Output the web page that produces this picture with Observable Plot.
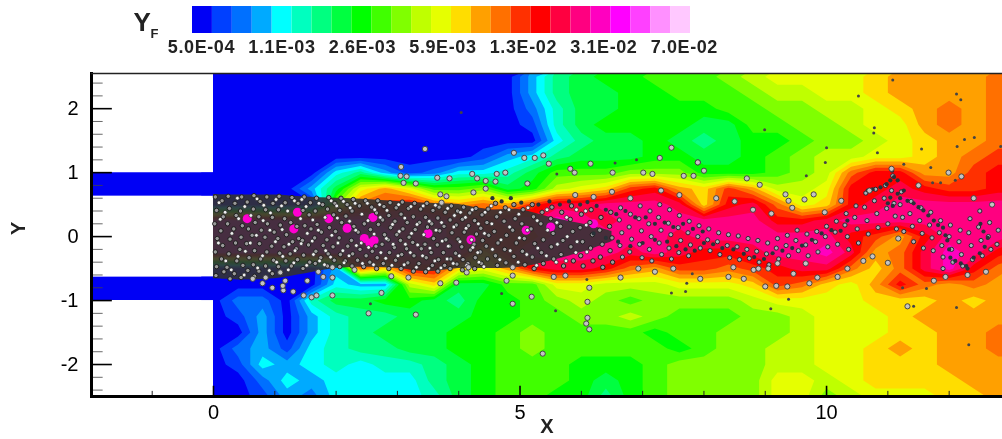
<!DOCTYPE html>
<html><head><meta charset="utf-8">
<script src="https://cdn.jsdelivr.net/npm/d3@7"></script>
<script src="https://cdn.jsdelivr.net/npm/@observablehq/plot@0.6"></script>
<style>html,body{margin:0;padding:0;background:#fff;overflow:hidden}svg{display:block;filter:blur(.5px)}.barlabel text{letter-spacing:.6px}</style>
</head><body>
<script>
// Colour bar: 25 bands, labelled every fourth level
const bandColors=["#0000f5","#0040ff","#0070ff","#00aaff","#00ffff","#00ffbf","#00ff80","#00ff40","#00ff00","#40ff00","#80ff00","#bfff00","#e6ff00","#ffdd00","#ffa000","#ff7000","#ff3000","#ff0000","#ff0040","#ff0080","#ff00c0","#ff00ff","#ff40ff","#ff90ff","#ffc8ff"];
const barLabels=["5.0E-04","1.1E-03","2.6E-03","5.9E-03","1.3E-02","3.1E-02","7.0E-02"];
const xMajor=[0,5,10], xMinor=[-1,1,2,3,4,6,7,8,9,11,12];
const yMajor=[-2,-1,0,1,2];
const yMinor=[-2.4,-2.2,-1.8,-1.6,-1.4,-1.2,-.8,-.6,-.4,-.2,.2,.4,.6,.8,1.2,1.4,1.6,1.8,2.2,2.4];
// Y_F level read at each grid node; columns x = 0, 0.4 ... 13.2, rows y = 2.5 ... -2.5
const r250=[0,0,0,0,0,0,0,0,0,0,0,0,0,3,6,7,8,8,9,9,9,10,11,12,12,12,12,13,14,14,14,14,15,15];
const r225=[0,0,0,0,0,0,0,0,0,0,0,0,0,3,6,7,7,8,8,9,9,9,10,11,11,12,12,13,14,14,14,14,15,15];
const r200=[0,0,0,0,0,0,0,0,0,0,0,0,0,2,5,7,7,8,8,8,8,9,9,10,10,11,11,12,13,14,15,14,15,15];
const r175=[0,0,0,0,0,0,0,0,0,0,0,0,0,1,5,7,8,8,8,8,7,7,9,9,10,10,11,12,12,14,15,14,15,15];
const r150=[0,0,0,0,0,0,0,0,0,0,0,0,0,0,4,6,7,7,8,7,6,7,8,8,9,10,10,11,12,13,14,14,15,15];
const r125=[0,0,0,0,0,0,0,0,0,0,0,1,3,4,6,7,7,7,8,8,7,7,8,9,10,11,11,12,12,13,14,15,16,16];
const r100=[0,0,0,0,0,4,6,3,1,2,4,4,5,7,9,9,9,10,10,10,8,8,8,9,10,11,15,17,17,14,14,16,17,17];
const r075=[0,0,0,0,3,7,12,14,12,9,9,10,7,8,11,12,13,16,17,14,13,16,14,11,11,12,17,17,18,17,16,16,17,17];
const r050=[0,0,0,0,0,10,15,16,17,15,14,15,14,16,18,18,19,19,19,18,13,17,18,15,12,13,17,18,19,19,19,19,19,19];
const r025=[20,20,20,20,20,20,20,19,19,19,18,17,18,18,20,19,18,19,19,19,19,19,19,17,17,18,19,19,19,19,19,19,19,19];
const r000=[20,20,20,20,20,20,21,20,19,19,18,18,17,17,19,19,19,19,19,18,19,19,19,19,19,19,17,16,14,17,19,19,19,18];
const rm025=[20,20,20,20,20,20,20,20,19,19,19,14,17,19,19,19,19,18,19,18,17,17,18,19,19,20,18,14,15,18,20,19,17,16];
const rm050=[0,0,0,0,0,3,15,13,17,17,13,12,14,17,18,18,17,15,14,16,16,15,16,17,18,18,15,13,15,18,20,17,15,14];
const rm075=[0,0,0,0,0,4,3,3,11,13,7,7,9,9,12,12,11,11,11,12,12,12,13,16,15,13,12,14,17,15,14,15,14,14];
const rm100=[0,2,2,0,5,7,7,8,8,7,6,8,8,9,10,11,10,9,10,10,10,10,11,12,12,12,12,13,13,13,14,13,14,14];
const rm125=[0,1,3,0,3,5,6,6,7,7,7,8,8,9,9,10,10,11,10,9,9,9,10,10,11,12,12,12,13,14,14,14,14,14];
const rm150=[0,0,3,0,3,5,6,7,7,7,8,8,9,10,9,9,9,9,8,9,9,10,10,10,11,12,12,12,13,13,14,14,15,15];
const rm175=[0,2,3,1,4,5,6,6,7,7,8,8,9,10,9,9,9,9,9,8,9,10,10,11,11,12,12,13,14,13,14,14,15,15];
const rm200=[0,1,4,3,4,5,4,5,5,6,7,8,9,9,9,8,8,8,9,10,10,10,10,11,11,12,12,13,13,13,14,14,14,14];
const rm225=[0,0,2,4,3,4,4,4,4,6,7,8,9,9,9,8,7,8,9,10,10,10,10,12,12,11,12,13,13,13,13,14,14,14];
const rm250=[0,0,1,3,2,4,4,4,4,5,7,8,9,9,8,8,6,8,9,10,10,10,10,12,12,10,11,12,12,12,13,13,14,14];
const fieldRows=[r250,r225,r200,r175,r150,r125,r100,r075,r050,r025,r000,rm025,rm050,rm075,rm100,rm125,rm150,rm175,rm200,rm225,rm250];
// Dense droplet cloud outline
const cloudX=[0,.5,1,1.5,2,2.5,3,3.5,4,4.5,5,5.5,6,6.5];
const cloudTop=[.66,.65,.65,.62,.6,.58,.55,.52,.5,.42,.42,.3,.2,.08];
const cloudBottom=[-.66,-.68,-.66,-.58,-.5,-.48,-.5,-.55,-.5,-.5,-.48,-.38,-.25,-.08];
// Fuel-rich pockets seen through the cloud
const pockets=[[.55,.28],[1.37,.38],[1.31,.12],[1.88,.28],[2.18,.13],[2.46,-.03],[2.62,-.06],[2.6,.3],[3.5,.05],[2.55,-.1],[4.2,-.05],[5.1,.1],[5.5,.15],[6.2,.2]];
const coreDrops=[[.03,.62],[.05,.41],[.02,.2],[.06,-.03],[.03,-.24],[.05,-.47],[.04,-.61],[.14,.56],[.16,.31],[.12,.09],[.15,-.14],[.13,-.35],[.17,-.55],[.24,.63],[.26,.44],[.23,.2],[.27,-.04],[.25,-.27],[.22,-.48],[.27,-.66],[.35,.52],[.37,.33],[.33,.12],[.36,-.1],[.38,-.38],[.34,-.58],[.46,.62],[.44,.4],[.47,.17],[.45,-.01],[.43,-.2],[.48,-.45],[.45,-.64],[.55,.54],[.57,.12],[.54,-.11],[.58,-.33],[.56,-.53],[.66,.64],[.65,.43],[.68,.22],[.63,.02],[.67,-.22],[.65,-.44],[.67,-.62],[.76,.55],[.74,.31],[.78,.1],[.75,-.11],[.77,-.35],[.74,-.54],[.87,.62],[.85,.42],[.88,.2],[.84,-.01],[.87,-.24],[.85,-.46],[.97,.52],[.96,.3],[.99,.07],[.95,-.15],[.98,-.37],[.96,-.58],[1.07,.63],[1.06,.42],[1.09,.18],[1.05,-.03],[1.08,-.26],[1.06,-.47],[1.17,.53],[1.16,.28],[1.19,.03],[1.15,-.16],[1.18,-.38],[1.28,.61],[1.26,.22],[1.29,-.08],[1.25,-.27],[1.27,-.46],[1.38,.52],[1.36,.16],[1.39,-.03],[1.35,-.19],[1.37,-.36],[1.48,.62],[1.46,.41],[1.49,.17],[1.45,-.06],[1.47,-.29],[1.46,-.5],[1.58,.53],[1.56,.34],[1.59,.12],[1.55,-.13],[1.57,-.4],[1.68,.6],[1.66,.4],[1.69,.19],[1.65,-.02],[1.67,-.23],[1.66,-.42],[1.78,.5],[1.76,.07],[1.79,-.14],[1.75,-.33],[1.88,.61],[1.86,.43],[1.89,.14],[1.85,-.05],[1.87,-.27],[1.86,-.46],[1.98,.52],[1.96,.34],[1.99,.08],[1.95,-.16],[1.97,-.37],[2.08,.6],[2.06,.41],[2.09,.22],[2.05,-.02],[2.07,-.28],[2.06,-.47],[2.18,.5],[2.16,.32],[2.19,-.15],[2.15,-.38],[2.28,.58],[2.26,.4],[2.29,.16],[2.25,-.06],[2.27,-.27],[2.26,-.46],[2.38,.48],[2.36,.07],[2.39,-.2],[2.35,-.37],[2.48,.56],[2.46,.2],[2.49,-.3],[2.45,-.47],[2.58,.46],[2.56,.11],[2.59,-.23],[2.55,-.4],[2.68,.56],[2.66,.37],[2.69,.19],[2.65,-.15],[2.67,-.33],[2.66,-.5],[2.78,.47],[2.76,.26],[2.79,.03],[2.75,-.12],[2.77,-.42],[2.88,.53],[2.86,.33],[2.89,.14],[2.85,-.05],[2.87,-.25],[2.86,-.5],[2.98,.45],[2.96,.24],[2.99,.03],[2.95,-.17],[2.97,-.37],[3.08,.54],[3.06,.35],[3.09,.12],[3.05,-.06],[3.07,-.28],[3.06,-.5],[3.18,.44],[3.16,.22],[3.19,-.01],[3.15,-.19],[3.17,-.41],[3.28,.52],[3.26,.31],[3.29,.11],[3.25,-.09],[3.27,-.3],[3.26,-.54],[3.38,.43],[3.36,.22],[3.39,-.19],[3.35,-.42],[3.48,.52],[3.46,.3],[3.49,.15],[3.45,-.12],[3.47,-.33],[3.46,-.55],[3.58,.41],[3.56,.2],[3.59,-.03],[3.55,-.25],[3.57,-.45],[3.68,.46],[3.66,.29],[3.69,.09],[3.65,-.13],[3.67,-.36],[3.66,-.54],[3.78,.38],[3.76,.16],[3.79,-.05],[3.75,-.25],[3.77,-.45],[3.88,.48],[3.86,.26],[3.89,.06],[3.85,-.15],[3.87,-.35],[3.86,-.5],[3.98,.4],[3.96,.18],[3.99,-.04],[3.95,-.26],[3.97,-.43],[4.08,.46],[4.06,.27],[4.09,.07],[4.05,-.16],[4.07,-.36],[4.06,-.52],[4.18,.37],[4.16,.17],[4.19,-.21],[4.15,-.42],[4.28,.44],[4.26,.25],[4.29,.04],[4.25,-.12],[4.27,-.33],[4.26,-.5],[4.38,.34],[4.36,.13],[4.39,-.06],[4.35,-.24],[4.37,-.42],[4.48,.43],[4.46,.22],[4.49,.02],[4.45,-.15],[4.47,-.35],[4.6,.52],[4.62,.31],[4.58,.08],[4.64,-.1],[4.6,-.3],[4.63,-.45],[4.76,.45],[4.74,.24],[4.78,.02],[4.75,-.2],[4.77,-.41],[4.9,.5],[4.92,.28],[4.88,.1],[4.94,-.1],[4.9,-.31],[5.05,.42],[5.03,.2],[5.07,-.03],[5.04,-.23],[5.08,-.44],[5.2,.5],[5.22,.31],[5.18,.12],[5.24,-.11],[5.2,-.32],[5.23,-.5],[5.36,.38],[5.34,.2],[5.38,-.05],[5.35,-.25],[5.38,-.42],[5.52,.46],[5.5,.28],[5.54,.05],[5.51,-.16],[5.55,-.35],[5.68,.38],[5.66,.16],[5.7,-.06],[5.67,-.28],[5.71,-.46],[5.84,.48],[5.82,.27],[5.86,.08],[5.83,-.16],[5.87,-.38],[6,.35],[5.98,.14],[6.02,-.08],[5.99,-.3],[6.03,-.46],[6.16,.42],[6.14,.22],[6.18,.03],[6.15,-.18],[6.19,-.38],[6.32,.3],[6.3,.1],[6.34,-.12],[6.31,-.32],[6.35,-.48],[6.48,.38],[6.46,.16],[6.5,-.02],[6.47,-.22],[6.51,-.4],[6.64,.45],[6.62,.26],[6.66,.06],[6.63,-.14],[6.67,-.32],[6.8,.35],[6.78,.15],[6.82,-.04],[6.79,-.24],[6.96,.48],[6.94,.28],[6.98,.09],[6.95,-.12],[6.99,-.33],[7.12,.4],[7.1,.2],[7.14,0],[7.11,-.2],[7.15,-.38],[7.28,.5],[7.26,.3],[7.3,.1],[7.27,-.1],[7.31,-.28],[7.44,.42],[7.42,.21],[7.46,.03],[7.43,-.18],[7.47,-.35],[7.6,.33],[7.58,.14],[7.62,-.06],[7.59,-.25],[7.76,.24],[7.74,.06],[7.78,-.13],[7.75,-.3],[7.92,.17],[7.9,0],[7.94,-.18],[8.08,.12],[8.06,-.05],[8.1,-.22],[8.24,.06],[8.22,-.08],[8.26,-.28],[8.4,.03],[8.38,-.14],[8.42,-.33],[8.56,.01],[8.54,-.16],[8.58,-.36],[8.72,-.03],[8.7,-.2],[8.74,-.34],[8.88,-.06],[8.86,-.23],[8.9,-.4],[9.04,-.1],[9.02,-.27],[9.06,-.44],[9.2,-.03],[9.18,-.18],[9.22,-.35],[9.36,.02],[9.34,-.14],[9.38,-.3],[9.52,.1],[9.5,-.06],[9.54,-.22],[9.68,.04],[9.66,-.13],[9.7,-.3],[9.84,.08],[9.82,-.08],[9.86,-.24],[10,.16],[9.98,0],[10.02,-.16],[10.16,.24],[10.14,.07],[10.18,-.12],[10.32,.36],[10.3,.18],[10.34,0],[10.36,-.2],[10.48,.48],[10.46,.3],[10.5,.12],[10.52,-.1],[10.64,.68],[10.62,.46],[10.66,.25],[10.68,.04],[10.8,.74],[10.78,.56],[10.82,.36],[10.84,.14],[10.96,.8],[10.94,.6],[10.98,.44],[11,.2],[11.08,.95],[11.06,.72],[11.1,.52],[11.12,.32],[11.14,.12],[11.22,.7],[11.2,.5],[11.24,.3],[11.26,.08],[11.38,.55],[11.36,.36],[11.4,.16],[11.42,-.08],[11.54,.45],[11.52,.25],[11.56,.05],[11.58,-.18],[11.7,.38],[11.68,.18],[11.72,-.02],[11.74,-.22],[11.86,.25],[11.84,.06],[11.88,-.14],[11.9,-.32],[11.9,-.5],[12.02,.18],[12,0],[12.04,-.2],[12.06,-.4],[12.18,.1],[12.16,-.08],[12.2,-.28],[12.22,-.46],[12.34,.28],[12.32,.06],[12.36,-.14],[12.38,-.36],[12.5,.4],[12.48,.15],[12.52,-.06],[12.54,-.3],[12.66,.22],[12.64,0],[12.68,-.2],[12.8,.1],[12.78,-.12]];
const brightDrops=[[.09,.53],[.11,.27],[.08,-.1],[.2,-.38],[.19,.38],[.3,.05],[.29,-.52],[.41,.28],[.39,.6],[.4,-.31],[.51,.47],[.52,-.23],[.5,-.6],[.61,.33],[.6,-.1],[.71,.59],[.7,.02],[.72,-.49],[.81,.25],[.8,-.3],[.82,.49],[.92,.1],[.91,-.53],[.93,.37],[1.01,-.08],[1.02,.58],[1.03,-.4],[1.12,.11],[1.11,.48],[1.13,-.31],[1.22,-.52],[1.21,.4],[1.23,-.12],[1.32,.56],[1.33,-.22],[1.31,-.41],[1.42,.28],[1.43,-.11],[1.44,.58],[1.52,-.45],[1.53,.05],[1.51,.47],[1.62,.26],[1.63,-.28],[1.61,-.07],[1.72,.52],[1.73,-.38],[1.71,.1],[1.82,.3],[1.83,-.22],[1.81,-.44],[1.92,.56],[1.93,.02],[1.91,-.32],[2.02,.29],[2.03,-.1],[2.01,.48],[2.12,.55],[2.13,-.41],[2.11,-.22],[2.22,.24],[2.23,.45],[2.21,-.3],[2.32,.1],[2.33,-.14],[2.31,.52],[2.42,.35],[2.43,-.42],[2.41,-.1],[2.52,.25],[2.53,-.17],[2.51,.52],[2.62,.04],[2.63,.42],[2.61,-.44],[2.72,.3],[2.73,-.25],[2.71,.5],[2.82,-.03],[2.83,.41],[2.81,-.34],[2.92,.19],[2.93,-.12],[2.91,-.45],[3.02,.5],[3.03,.08],[3.01,-.3],[3.12,.29],[3.13,-.12],[3.11,-.44],[3.22,.47],[3.23,.05],[3.21,-.25],[3.32,.19],[3.33,-.13],[3.31,-.48],[3.42,.48],[3.43,.03],[3.41,-.3],[3.52,.24],[3.53,-.18],[3.51,-.5],[3.62,.49],[3.63,.1],[3.61,-.38],[3.72,.22],[3.73,-.07],[3.71,-.49],[3.82,.44],[3.83,-.15],[3.81,-.35],[3.92,.15],[3.93,.33],[3.91,-.42],[4.02,-.08],[4.03,.38],[4.01,-.3],[4.12,.13],[4.13,-.45],[4.11,.3],[4.22,.42],[4.23,-.17],[4.21,-.05],[4.32,.2],[4.33,-.4],[4.31,-.25],[4.42,.05],[4.43,.38],[4.41,-.47],[4.54,.2],[4.55,-.2],[4.53,.48],[4.68,.38],[4.69,-.05],[4.67,-.36],[4.83,.15],[4.84,-.22],[4.82,.42],[4.98,.35],[4.99,-.02],[4.97,-.4],[5.12,.1],[5.13,.45],[5.11,-.28],[5.28,.25],[5.29,-.18],[5.27,-.45],[5.44,.42],[5.45,.1],[5.43,-.3],[5.6,.22],[5.61,-.12],[5.59,-.4],[5.76,.3],[5.77,.0],[5.75,-.38],[5.92,.42],[5.93,-.08],[5.91,-.25],[6.08,.18],[6.09,-.24],[6.07,.4]];
const darkDrops=[[4.55,.6],[4.7,.55],[4.85,.6],[5.02,.53],[5.3,.5],[5.48,.55],[5.65,.5],[5.8,.55],[5.98,.5],[6.1,.54],[6.25,.48],[6.4,.42],[6.57,.35],[6.72,.4],[6.88,.3],[7.05,.3],[7.2,.2],[7.36,.22],[7.5,.15],[7.66,.2],[7.82,.12],[7.98,.08],[6.2,.05],[6.4,-.02],[6.6,-.08],[6.8,-.15],[7,-.1],[7.2,-.05],[7.4,-.08],[7.55,-.15],[7.7,-.2],[7.85,-.22],[8,-.1],[8.15,-.12],[8.3,-.18],[8.48,-.2],[8.65,-.27],[8.82,-.32],[8.98,-.35],[9.12,-.26],[9.28,-.22],[9.44,-.18],[9.6,-.14],[9.76,-.05],[9.92,.05],[10.08,.1],[10.23,.09],[10.34,.25],[10.67,.72],[10.75,.74],[10.88,.77],[10.98,.82],[11.04,.88],[11.07,1.03],[11.1,.93],[11.16,.88],[11.16,.67],[11.26,.72],[11.04,.61],[11,.52],[11.08,.48],[11.2,.6],[11.32,.56],[11.42,.52],[11.5,.46],[11.58,.41],[11.66,.33],[11.75,.25],[11.82,.18],[11.9,.14],[11.94,.02],[11.97,-.06],[12,-.2],[12.02,-.33],[12.1,-.38],[12.19,-.42],[12.28,-.46],[12.51,.2],[12.56,.08],[12.63,-.02],[12.58,-.16],[12.5,-.26],[12.4,-.33],[12.3,-.5]];
const outerDrops=[[3.45,1.37],[3.06,1.09],[4.9,1.31],[5.07,1.23],[5.24,1.23],[5.38,1.27],[5.47,1.14],[3.65,.92],[3.85,.91],[4.22,.98],[4.3,.91],[4.44,.87],[4.62,.98],[4.76,1],[4.6,.86],[5.82,1.06],[5.89,1],[6.15,1.14],[7.28,1.23],[7.47,1.39],[6.51,1],[7.01,1],[7.16,.98],[7.67,.95],[7.9,1.16],[5.12,.83],[4.44,.75],[4.24,.69],[3.7,.66],[3.8,.63],[3.72,.53],[3.3,.83],[3.05,.95],[3.15,.94],[3.1,.84],[.64,-.66],[.8,-.73],[.96,-.8],[1.14,-.84],[1.3,-.86],[1.47,-.92],[1.6,-.95],[1.68,-.92],[1.94,-.92],[2.74,-.88],[2.53,-1.2],[1.53,-.69],[1.71,-.55],[1.79,-.63],[1.94,-.64],[1.94,-.48],[1.17,-.69],[1.13,-.77],[1.09,-.56],[.85,-.64],[3.3,-1.22],[3.18,-.64],[3.7,-.73],[3.96,-.72],[4.13,-.56],[4.16,-.48],[4.88,-1.05],[5.19,-.94],[5.37,-1.83],[4.78,-.69],[4.88,-.61],[4.88,-.48],[5.55,-.63],[5.74,-.61],[6.1,-1.02],[6.13,-.8],[6.1,-1.27],[6.08,-1.36],[6.13,-1.45],[6.93,-.5],[6.64,-.64],[7.94,-.66],[8.4,-.63],[8.65,-.66],[8.48,-.48],[9.18,-.77],[9.36,-.78],[9.72,-.73],[9,-.78],[10.18,-.63],[9.85,-.64],[9.46,-.58],[10.34,-.5],[10.6,-.38],[10.75,-.31],[11,-.41],[11.17,-.03],[11.75,-.69],[11.94,-.63],[11.32,-1.09],[8.81,-.52],[8.89,-.5],[9.05,-.5],[9.2,-.42],[9.66,-.42],[8.7,.91],[8.91,.81],[7.9,1.16],[8,1.03],[7.83,.95],[9.33,.66],[9.38,.56],[9.64,.58],[9.79,.66],[9.44,.45],[9.97,.38],[10.24,.56],[11.06,1.06],[11.99,1],[12.2,.94],[5.9,.65],[6.2,.62],[6.5,.7],[6.8,.6],[7.3,.72],[7.6,.65],[8.2,.6],[8.5,.55],[8.8,.42],[9.1,.36],[10.7,.72],[11.5,.8],[12.4,.6],[12.7,.5],[12.6,-.55],[12.3,-.6],[2.3,-.52],[2.9,-.62],[7.2,-.55],[7.5,-.5]];
const fineDrops=[[4.04,1.94],[10.52,2.2],[11.08,2.45],[10.78,1.7],[10.77,1.62],[10,1.39],[8.99,1.67],[10.83,1.31],[9.98,1.16],[11.55,1.37],[12.19,2.14],[12.12,2.23],[12.25,1.52],[12.41,1.55],[12.13,1.41],[12.84,1.41],[11.26,1.13],[11.7,1.08],[12.1,.88],[11.73,.84],[11.86,.84],[9.67,.95],[9.09,-1.13],[9.38,-.98],[11.42,-1.09],[12.12,-1.11],[12.32,-1.69],[11.24,-.8],[11.63,-.81],[2.56,-1.05],[7.47,-.88],[7.7,-.86],[7.72,-.73],[7.81,-.58],[6.09,-.67],[5.58,-1.16],[6.55,1.15],[6.9,1.2],[5.6,.98],[4.7,-.89]];
const wallTopY=[1,2.55], wallMidY=[-.63,.63], wallBottomY=[-2.5,-1];
const channels=[[.63,1],[-1,-.63]];

const font="'Liberation Sans',Helvetica,Arial,sans-serif";
const legend=Plot.plot({width:1002,height:66,marginLeft:192,marginRight:312,marginTop:6,marginBottom:33,
  style:{fontFamily:font,background:"transparent"},
  x:{domain:[0,25],axis:null},y:{domain:[0,1],axis:null},
  marks:[
    Plot.rectY(bandColors,{x1:(d,i)=>i,x2:(d,i)=>i+1,y1:0,y2:1,fill:d=>d}),
    Plot.text(barLabels,{x:(d,i)=>i*4.04+.45,frameAnchor:"bottom",dy:19.5,text:d=>d,fontSize:18,fontWeight:700,fill:"#222",stroke:"none",className:"barlabel"}),
    Plot.text(["Y"],{frameAnchor:"left",dx:-59,dy:2.5,fontSize:26,fontWeight:700,fill:"#222"}),
    Plot.text(["F"],{frameAnchor:"left",dx:-42,dy:14,fontSize:13,fontWeight:700,fill:"#222"})
  ]});
const main=Plot.plot({width:1002,height:373,marginLeft:91,marginRight:0,marginTop:7,marginBottom:43,
  style:{fontFamily:font,background:"transparent"},
  x:{domain:[-1.99,12.87],axis:null},y:{domain:[-2.5,2.55],axis:null},
  color:{type:"threshold",domain:d3.range(.5,24),range:bandColors},
  marks:[
    Plot.contour(fieldRows.flat(),{width:34,height:21,x1:-.2,x2:13.4,y1:2.625,y2:-2.625,thresholds:d3.range(-.5,24),fill:Plot.identity,clip:true}),
    Plot.rect(channels,{x1:-1.99,x2:0,y1:d=>d[0],y2:d=>d[1],fill:bandColors[0]}),
    Plot.rect([wallTopY,wallMidY,wallBottomY],{x1:-1.99,x2:0,y1:d=>d[0],y2:d=>d[1],fill:"white"}),
    Plot.areaY(cloudX,{x:d=>d,y1:(d,i)=>cloudTop[i],y2:(d,i)=>cloudBottom[i],fill:"#333",fillOpacity:.9,curve:"catmull-rom"}),
    Plot.dot(pockets,{x:d=>d[0],y:d=>d[1],r:4.5,fill:"#ff00d0",stroke:"none"}),
    Plot.dot(coreDrops,{filter:d=>d[0]<6.6,x:d=>d[0],y:d=>d[1],r:2.2,fill:"#9a9a9a",stroke:"#161616",strokeWidth:.9}),
    Plot.dot(brightDrops,{x:d=>d[0],y:d=>d[1],r:1.9,fill:"#efefef",stroke:"#222",strokeWidth:.7}),
    Plot.dot(coreDrops,{filter:d=>d[0]>=6.6,x:d=>d[0],y:d=>d[1],r:2.1,fill:"#a9b4ba",stroke:"#2a2a35",strokeWidth:1,clip:true}),
    Plot.dot(darkDrops,{x:d=>d[0],y:d=>d[1],r:2.1,fill:"#283238",stroke:"none",clip:true}),
    Plot.dot(outerDrops,{x:d=>d[0],y:d=>d[1],r:2.6,fill:"#c4c4c4",stroke:"#3a3a3a",strokeWidth:.9,clip:true}),
    Plot.dot(fineDrops,{x:d=>d[0],y:d=>d[1],r:1.5,fill:"#444",stroke:"none",clip:true}),
    Plot.ruleX(xMajor,{y1:-2.5,y2:-2.34,stroke:"black",strokeWidth:1.6}),
    Plot.ruleX(xMinor,{y1:-2.5,y2:-2.42,stroke:"#222",strokeWidth:1}),
    Plot.ruleY(yMajor,{x1:-1.99,x2:-1.65,stroke:"black",strokeWidth:1.6}),
    Plot.ruleY(yMinor,{x1:-1.99,x2:-1.8,stroke:"#444",strokeWidth:.8}),
    Plot.frame({anchor:"left",stroke:"black",strokeWidth:3}),
    Plot.frame({anchor:"bottom",stroke:"black",strokeWidth:3}),
    Plot.frame({anchor:"top",stroke:"#222",strokeWidth:1.5}),
    Plot.axisX({ticks:xMajor,tickSize:0,tickPadding:8,fontSize:20,label:null,tickFormat:d=>`${d}`}),
    Plot.axisY({ticks:yMajor,tickSize:0,tickPadding:13,fontSize:20,label:null,tickFormat:d=>`${d}`}),
    Plot.text(["X"],{frameAnchor:"bottom",dy:36,fontSize:20,fontWeight:700,fill:"#222"}),
    Plot.text(["Y"],{frameAnchor:"left",dx:-73,rotate:-90,fontSize:20,fontWeight:700,fill:"#222"})
  ]});
document.body.append(legend,main);
</script>
</body></html>
